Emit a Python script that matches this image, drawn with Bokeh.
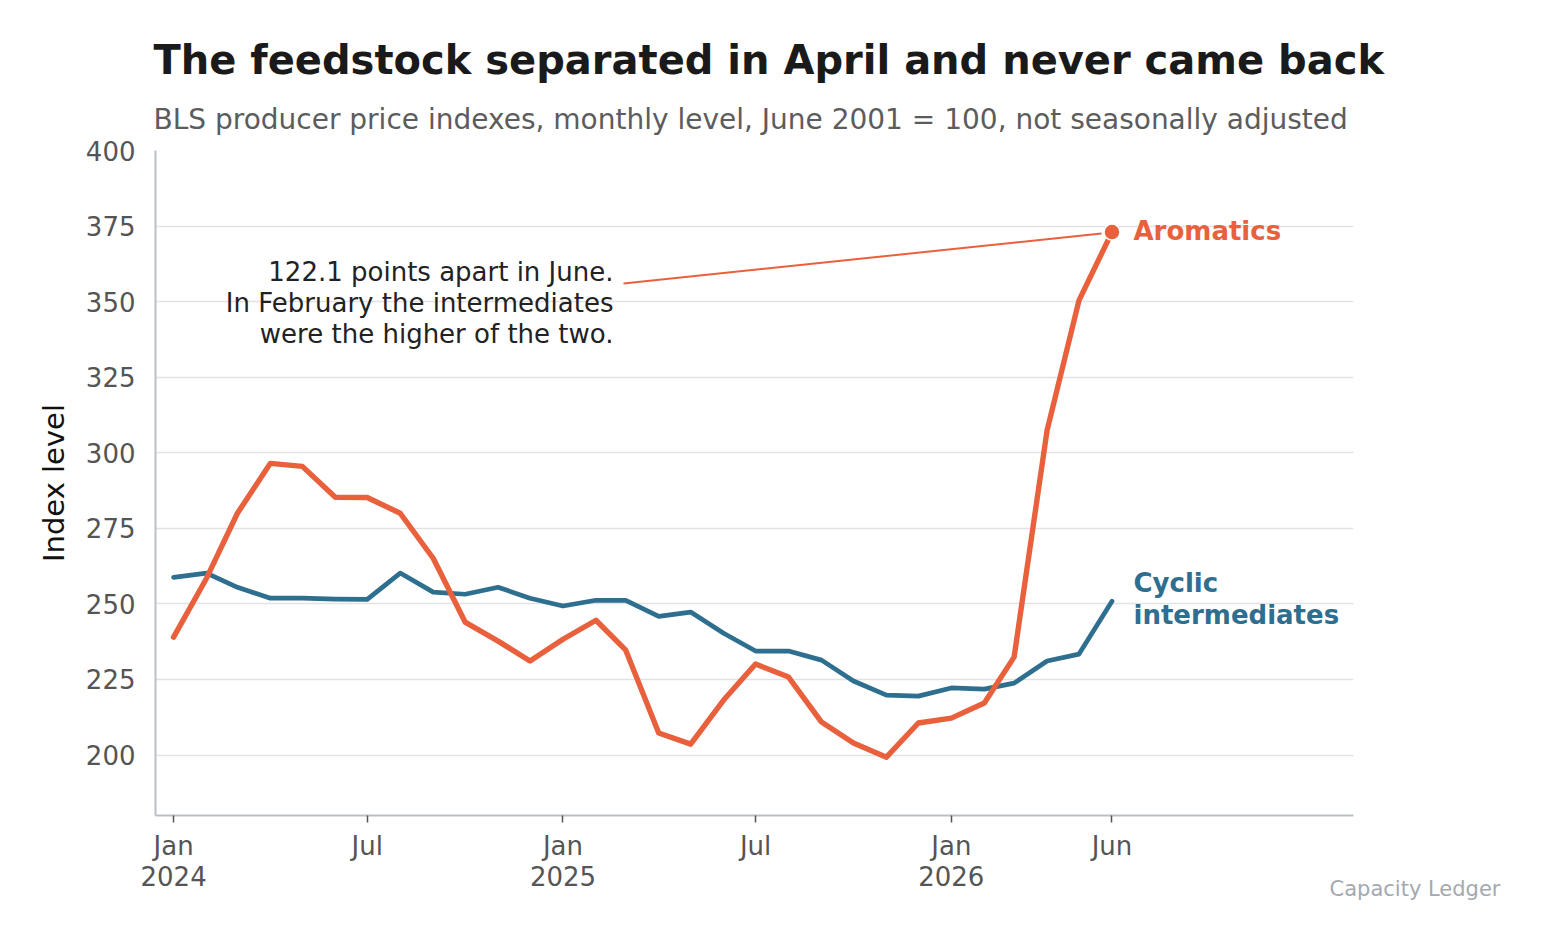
import pandas as pd
from bokeh.plotting import figure
from bokeh.models import (Range1d, FixedTicker, CustomJSTickFormatter, Label, Title, ColumnDataSource)
from bokeh.embed import file_html
from bokeh.resources import INLINE

# ---------------- data ----------------
months = pd.date_range("2024-01-01", periods=30, freq="MS")
aromatics = [239.0, 258.5, 280.0, 296.5, 295.5, 285.3, 285.2, 280.0, 265.1, 244.0,
             237.7, 231.1, 238.3, 244.6, 234.7, 207.3, 203.6, 218.2, 230.1, 225.8,
             210.9, 204.0, 199.3, 210.6, 212.2, 217.2, 232.4, 307.4, 350.4, 373.0]
cyclic = [258.8, 260.2, 255.5, 251.9, 251.9, 251.6, 251.5, 260.2, 253.9, 253.2,
          255.5, 251.9, 249.3, 251.2, 251.2, 245.9, 247.3, 240.3, 234.4, 234.4,
          231.4, 224.5, 219.8, 219.5, 222.2, 221.8, 223.8, 231.1, 233.4, 250.9]
tick_dates = ["2024-01-01", "2024-07-01", "2025-01-01", "2025-07-01", "2026-01-01", "2026-06-01"]
tick_labels = ["Jan\n2024", "Jul", "Jan\n2025", "Jul", "Jan\n2026", "Jun"]
y_ticks = [200, 225, 250, 275, 300, 325, 350, 375, 400]

title_text = "The feedstock separated in April and never came back"
subtitle_text = "BLS producer price indexes, monthly level, June 2001 = 100, not seasonally adjusted"
note_lines = ["122.1 points apart in June.",
              "In February the intermediates",
              "were the higher of the two."]
credit_text = "Capacity Ledger"

ORANGE = "#e8613c"
BLUE = "#2e6e8e"
FONT = "DejaVu Sans"

# ---------------- geometry ----------------
W, H = 1529, 928
FL, FR, FT, FB = 155, 1353, 150, 815          # frame edges in canvas px
x_start = pd.Timestamp("2023-12-15")
x_end = pd.Timestamp("2027-01-14")
Y0, Y1 = 180, 400
BASE_FIX = 9                                  # baseline compensation (px)

def ms(t):
    return pd.Timestamp(t).value / 1e6

xs0, xs1 = ms(x_start), ms(x_end)

def px(cx):
    return xs0 + (cx - FL) * (xs1 - xs0) / (FR - FL)

def py(cy):
    cy = cy - BASE_FIX
    return Y1 - (cy - FT) * (Y1 - Y0) / (FB - FT)

p = figure(width=W, height=H, x_axis_type="datetime", output_backend="svg",
           toolbar_location=None, x_range=Range1d(x_start, x_end),
           y_range=Range1d(Y0, Y1),
           min_border_left=FL, min_border_right=W - FR,
           min_border_top=FT, min_border_bottom=H - FB)
p.outline_line_color = None
p.background_fill_color = "white"
p.border_fill_color = "white"
p.title.visible = False

src = ColumnDataSource(dict(date=months, aromatics=aromatics, cyclic=cyclic))
p.line("date", "cyclic", source=src, color=BLUE, line_width=4.7, line_join="round", line_cap="round")
p.line("date", "aromatics", source=src, color=ORANGE, line_width=5.4, line_join="round", line_cap="round")
p.scatter([months[-1]], [aromatics[-1]], size=16, color=ORANGE, line_color="white", line_width=1.5)

# grid
p.xgrid.visible = False
p.ygrid.grid_line_color = "#e2e2e2"
p.ygrid.grid_line_width = 1.5
p.ygrid.ticker = FixedTicker(ticks=y_ticks)

# axes
tick_ms = [ms(t) for t in tick_dates]
p.xaxis.ticker = FixedTicker(ticks=tick_ms)
p.xaxis.formatter = CustomJSTickFormatter(args=dict(tvals=tick_ms, tnames=tick_labels),
                                          code="const i = tvals.indexOf(tick); return i >= 0 ? tnames[i] : '';")
p.yaxis.ticker = FixedTicker(ticks=y_ticks)
for ax in (p.xaxis[0], p.yaxis[0]):
    ax.axis_line_color = "#b9bfc7"
    ax.axis_line_width = 2
    ax.major_label_text_font = FONT
    ax.major_label_text_font_size = "26px"
    ax.major_label_text_color = "#555555"
    ax.minor_tick_line_color = None
p.xaxis.major_tick_line_color = "#555555"
p.xaxis.major_tick_line_width = 1.5
p.xaxis.major_tick_out = 7
p.xaxis.major_tick_in = 0
p.xaxis.major_label_standoff = 8
p.xaxis.major_label_text_line_height = 1.06
p.yaxis.major_tick_line_color = None
p.yaxis.major_tick_out = 0
p.yaxis.major_tick_in = 0
p.yaxis.major_label_standoff = 20
p.yaxis.axis_label = "Index level"
p.yaxis.axis_label_text_font = FONT
p.yaxis.axis_label_text_font_size = "29px"
p.yaxis.axis_label_text_font_style = "normal"
p.yaxis.axis_label_text_color = "#111111"
p.yaxis.axis_label_standoff = 12

# title & subtitle (subtitle first = nearest to the frame)
p.add_layout(Title(text=subtitle_text, text_font=FONT, text_font_size="28px",
                   text_font_style="normal", text_color="#5c5c5c", align="left",
                   offset=-2, standoff=30), "above")
p.add_layout(Title(text=title_text, text_font=FONT, text_font_size="40px",
                   text_font_style="bold", text_color="#1a1a1a", align="left",
                   offset=-2, standoff=6), "above")
# credit below the axis
credit_kw = dict(text=credit_text, text_font=FONT, text_font_size="21px",
                 text_font_style="normal", text_color="#a3a9b0", align="right",
                 offset=-147, vertical_align="top")
try:
    credit = Title(standoff=-38, **credit_kw)
except Exception:
    credit = Title(standoff=0, **credit_kw)
p.add_layout(credit, "below")

def add_label(x, y, text, size, color, style="normal", align="left", baseline="alphabetic"):
    p.add_layout(Label(x=x, y=y, text=text, text_font=FONT, text_font_size=size,
                       text_color=color, text_font_style=style, text_align=align,
                       text_baseline=baseline))

# annotation
for i, line in enumerate(note_lines):
    add_label(px(613), py(280 + 31 * i), line, "26px", "#222222", align="right")
p.segment(x0=[px(623)], y0=[py(283 + BASE_FIX)], x1=[px(1101)], y1=[py(233 + BASE_FIX)],
          color=ORANGE, line_width=2)

# series labels
add_label(px(1133), py(239), "Aromatics", "26px", ORANGE, style="bold")
add_label(px(1133), py(591), "Cyclic", "26px", BLUE, style="bold")
add_label(px(1133), py(623), "intermediates", "26px", BLUE, style="bold")

open("out.html", "w").write(file_html(p, INLINE))
